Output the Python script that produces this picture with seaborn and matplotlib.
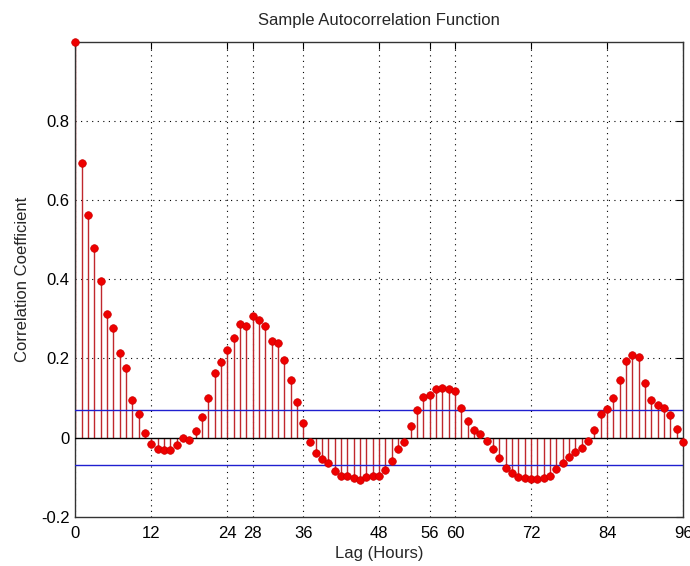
import numpy as np
import pandas as pd
import matplotlib
matplotlib.use("Agg")
import matplotlib.pyplot as plt
from matplotlib import font_manager
import seaborn as sns

lags = list(range(0, 97))
acf = [1.0, 0.695, 0.562, 0.48, 0.395, 0.313, 0.278, 0.214, 0.176, 0.094,
       0.059, 0.012, -0.015, -0.028, -0.032, -0.032, -0.018, 0.0, -0.005, 0.017,
       0.051, 0.100, 0.164, 0.191, 0.222, 0.251, 0.286, 0.283, 0.308, 0.297,
       0.283, 0.245, 0.240, 0.197, 0.145, 0.090, 0.036, -0.012, -0.040, -0.053,
       -0.065, -0.085, -0.098, -0.098, -0.103, -0.108, -0.100, -0.097, -0.096, -0.083,
       -0.058, -0.028, -0.010, 0.030, 0.070, 0.103, 0.108, 0.124, 0.125, 0.122,
       0.117, 0.076, 0.043, 0.018, 0.008, -0.008, -0.030, -0.052, -0.078, -0.090,
       -0.100, -0.103, -0.104, -0.105, -0.103, -0.097, -0.080, -0.064, -0.050, -0.037,
       -0.025, -0.008, 0.020, 0.060, 0.072, 0.100, 0.145, 0.193, 0.208, 0.203,
       0.137, 0.094, 0.083, 0.074, 0.056, 0.023, -0.012]
bound = 0.069
x_ticks = [0, 12, 24, 28, 36, 48, 56, 60, 72, 84, 96]
y_ticks = [-0.2, 0, 0.2, 0.4, 0.6, 0.8]
y_tick_labels = ["-0.2", "0", "0.2", "0.4", "0.6", "0.8"]

df = pd.DataFrame({"lag": lags, "acf": acf})

sns.set_style("white")
installed = {f.name for f in font_manager.fontManager.ttflist}
if "Liberation Sans Narrow" in installed:
    plt.rcParams["font.family"] = ["Liberation Sans Narrow", "DejaVu Sans"]
    fs = 13.5
else:
    plt.rcParams["font.family"] = ["Liberation Sans", "DejaVu Sans"]
    fs = 12

fig = plt.figure(figsize=(6.9, 5.66), dpi=100)
ax = fig.add_axes([0.109, 0.087, 0.881, 0.839])

ax.set_xlim(0, 96)
ax.set_ylim(-0.2, 1.0)
ax.set_xticks(x_ticks)
ax.set_xticklabels([str(t) for t in x_ticks])
ax.set_yticks(y_ticks)
ax.set_yticklabels(y_tick_labels)

# grid (dotted, MATLAB style)
for t in x_ticks:
    ax.axvline(t, color="black", linestyle=(0, (1, 4)), linewidth=0.8, zorder=0)
for t in y_ticks[2:]:
    ax.axhline(t, color="black", linestyle=(0, (1, 4)), linewidth=0.8, zorder=0)

ax.vlines(df["lag"], 0, df["acf"], color="#c0282d", linewidth=1.0, zorder=2)
ax.axhline(0, color="black", linewidth=1.0, zorder=3)
ax.axhline(bound, color="#2020d0", linewidth=1.0, zorder=3)
ax.axhline(-bound, color="#2020d0", linewidth=1.0, zorder=3)
sns.scatterplot(data=df, x="lag", y="acf", ax=ax, color="#ee0000",
                s=30, edgecolor="#cc0000", linewidth=0.5, zorder=4, clip_on=False)

for s in ax.spines.values():
    s.set_color("#333333")
    s.set_linewidth(1.0)
ax.tick_params(direction="in", length=5, width=0.8, top=True, right=True,
               labelsize=fs, colors="black", pad=4)
ax.tick_params(axis="x", pad=7)

ax.set_xlabel("Lag (Hours)", fontsize=fs, labelpad=3)
ax.set_ylabel("Correlation Coefficient", fontsize=fs, labelpad=8)
ax.set_title("Sample Autocorrelation Function", fontsize=fs, pad=12)

fig.savefig("out.png", dpi=100)
